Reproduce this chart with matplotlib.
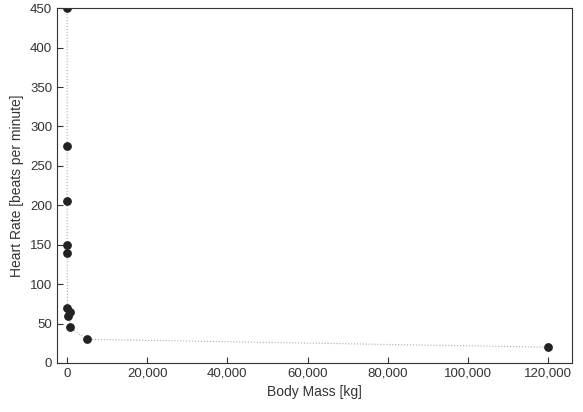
import matplotlib
matplotlib.use("Agg")
import matplotlib.pyplot as plt
from matplotlib.ticker import FuncFormatter

mass = [0.02, 0.3, 0.5, 1.0, 3.0, 70, 100, 600, 700, 5000, 120000]
rate = [450, 275, 205, 150, 140, 70, 60, 65, 45, 30, 20]

plt.rcParams['font.family'] = ['Liberation Sans', 'DejaVu Sans']
fig = plt.figure(figsize=(5.83, 4.12), dpi=100)
ax = fig.add_axes([0.098, 0.119, 0.883, 0.861])
pairs = sorted(zip(mass, rate))
ax.plot([p[0] for p in pairs], [p[1] for p in pairs], ':', color='#aaaaaa', lw=0.8, zorder=1)
ax.scatter(mass, rate, s=28, color='#222222', zorder=2)
ax.set_xlim(-2500, 126000)
ax.set_ylim(0, 450)
ax.set_xticks(range(0, 120001, 20000))
ax.set_yticks(range(0, 451, 50))
ax.xaxis.set_major_formatter(FuncFormatter(lambda v, p: f"{int(v):,}"))
ax.tick_params(direction='in', labelsize=9.5, colors='#333333', length=4)
for s in ax.spines.values():
    s.set_color('#333333'); s.set_linewidth(0.8)
ax.set_xlabel('Body Mass [kg]', fontsize=10, color='#333333')
ax.set_ylabel('Heart Rate [beats per minute]', fontsize=10, color='#333333')
fig.savefig('out.png', dpi=100)
